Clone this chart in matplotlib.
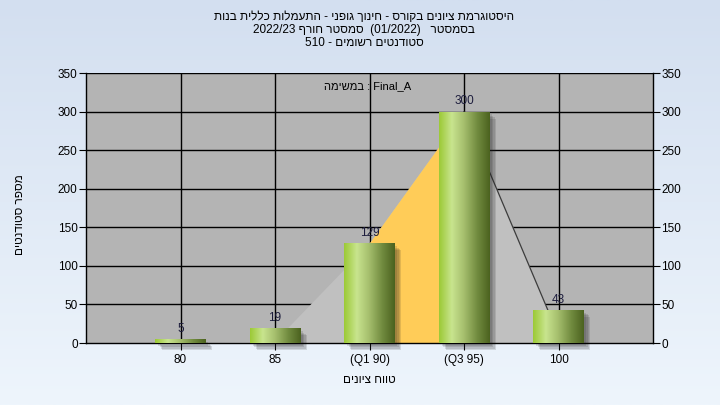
import numpy as np
import matplotlib
matplotlib.use("Agg")
import matplotlib.pyplot as plt
from matplotlib.colors import LinearSegmentedColormap
from matplotlib.patches import Rectangle
import matplotlib.patheffects as pe

plt.rcParams['font.family'] = ['Liberation Sans', 'DejaVu Sans']

# data
categories = ['80', '85', '(Q1 90)', '(Q3 95)', '100']
counts = [5, 19, 129, 300, 43]
# shape of the background area (grey / yellow between Q1 and Q3)
area_vals = [0, 3, 130, 300, 10]
q1_idx, q3_idx = 2, 3

title_lines = [
    'היסטוגרמת ציונים בקורס - חינוך גופני - התעמלות כללית בנות',
    'בסמסטר   (01/2022)  סמסטר חורף 2022/23',
    'סטודנטים רשומים - 510',
]
task_label = ['במשימה', ':', 'Final_A']   # already in visual order
xlabel_text = 'טווח ציונים'
ylabel_text = 'מספר סטודנטים'


def is_heb(w):
    return any('\u0590' <= ch <= '\u05ff' for ch in w)


def rtl(text):
    # matplotlib has no bidi: lay the logical RTL line out left-to-right by hand
    toks = text.split(' ')[::-1]
    return ' '.join(t[::-1] if is_heb(t) else t for t in toks)


def vis(words):
    return ' '.join(w[::-1] if is_heb(w) else w for w in words)


fig = plt.figure(figsize=(7.2, 4.05), dpi=100)

# figure background gradient
bg = fig.add_axes([0, 0, 1, 1], zorder=-10)
grad = np.linspace(0, 1, 256).reshape(-1, 1)
bg_cmap = LinearSegmentedColormap.from_list('bg', ['#d3dff0', '#eef5fc'])
bg.imshow(grad, aspect='auto', cmap=bg_cmap, extent=[0, 1, 0, 1])
bg.axis('off')

ax = fig.add_axes([86/720, 62/405, 567/720, 270/405])
ax.set_facecolor('#b4b4b4')
x = np.arange(len(categories))

# gridlines sit below the area
for yv in range(50, 351, 50):
    ax.axhline(yv, color='black', lw=1, zorder=0.5)
for xv in x:
    ax.axvline(xv, color='black', lw=1, zorder=0.5)

ax.fill_between(x, 0, area_vals, color='#c0c0c0', lw=0, zorder=1)
xq = x[q1_idx:q3_idx + 1]
ax.fill_between(xq, 0, area_vals[q1_idx:q3_idx + 1], color='#ffcc58', lw=0, zorder=1.1)
ax.plot(x[q3_idx:], area_vals[q3_idx:], color='#3c3c3c', lw=0.9, zorder=1.2)

bar_cmap = LinearSegmentedColormap.from_list(
    'bar', ['#9cca36', '#c8e48e', '#a4bd6c', '#728c40', '#4b621f'])
hgrad = np.linspace(0, 1, 128).reshape(1, -1)
width = 0.53
shadow = [pe.SimplePatchShadow(offset=(o, -o), shadow_rgbFace='#202020', alpha=0.13)
          for o in (2, 3, 4, 5)]
for xi, c in zip(x, counts):
    rect = Rectangle((xi - width/2, 0), width, c, facecolor='none', edgecolor='none',
                     zorder=2, clip_on=False, path_effects=shadow + [pe.Normal()])
    ax.add_patch(rect)
    im = ax.imshow(hgrad, aspect='auto', cmap=bar_cmap,
                   extent=[xi - width/2, xi + width/2, 0, c], zorder=3)
    im.set_clip_path(rect)
    ax.annotate(str(c), (xi, c), xytext=(0, 3), textcoords='offset points',
                ha='center', va='bottom', fontsize=8.5, color='#1c1c3c', zorder=4)

ax.set_xlim(-1, 5)
ax.set_ylim(0, 350)
ax.set_xticks(x)
ax.set_xticklabels(categories, fontsize=8.5)
ax.set_yticks(range(0, 351, 50))
ax.tick_params(axis='y', labelsize=8.5, length=5, direction='out',
               left=True, right=True, labelleft=True, labelright=True, pad=1)
ax.tick_params(axis='x', length=5, direction='out', pad=3)
for s in ax.spines.values():
    s.set_color('black')
    s.set_linewidth(1)
ax.spines['top'].set_visible(False)

ax.text(0.496, 0.952, vis(task_label), transform=ax.transAxes, ha='center', va='center',
        fontsize=8)

ax.set_xlabel(rtl(xlabel_text), fontsize=8.5, labelpad=6)
fig.text(20/720, 1 - 215/405, rtl(ylabel_text), rotation=90, ha='center', va='center',
         fontsize=8.5)

for i, line in enumerate(title_lines):
    fig.text(364/720, 1 - (17 + 13*i)/405, rtl(line), ha='center', va='center',
             fontsize=8.5)

fig.savefig('out.png', dpi=100)
